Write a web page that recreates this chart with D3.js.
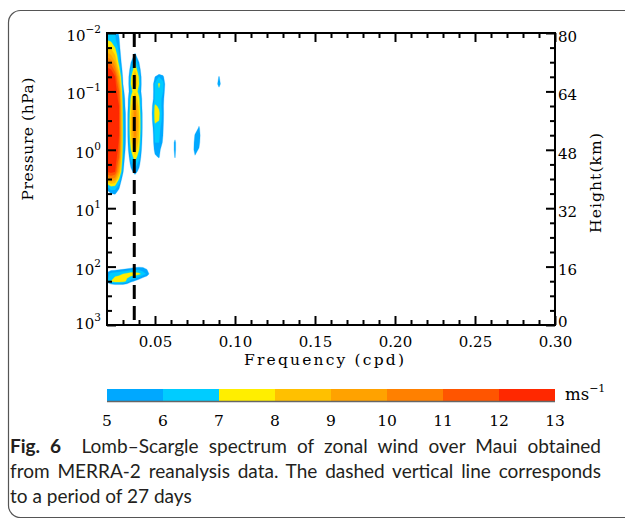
<!DOCTYPE html>
<html><head><meta charset="utf-8">
<script src="https://cdn.jsdelivr.net/npm/d3@7"></script>
<style>body{margin:0;background:#fff}svg{display:block}</style>
</head><body><svg id="c" width="625" height="519"></svg>
<script>
// ---- data ----
const freqs = [0.0200,0.0225,0.0250,0.0275,0.0300,0.0325,0.0350,0.0375,0.0400,0.0425,0.0450,0.0475,0.0500,0.0525,0.0550,0.0575,0.0600,0.0625,0.0650,0.0675,0.0700,0.0725,0.0750,0.0775,0.0800,0.0825,0.0850,0.0875,0.0900,0.0925,0.0950];
const heights = [80,78,76,74,72,70,68,66,64,62,60,58,56,54,52,50,48,46,44,42,40,38,36,34,32,30,28,26,24,22,20,18,16,14,12,10,8,6,4,2,0];
// spectral amplitude (m/s), rows = heights (top to bottom), columns = freqs
const power = [
[6.8,6.5,6.0,4.8,3.0,1.0,0,0,0,0,0,0,0,0,0,0,0,0,0,0,0,0,0,0,0,0,0,0,0,0,0],
[7.0,6.8,6.2,5.2,3.0,1.0,1,1,1,0,0,0,0,0,0,0,0,0,0,0,0,0,0,0,0,0,0,0,0,0,0],
[8.0,7.8,7.0,5.6,3.0,1.0,2,3,2,1,0,0,0,0,0,0,0,0,0,0,0,0,0,0,0,0,0,0,0,0,0],
[9.5,9.0,8.0,6.0,3.5,1.0,3,5.6,3,1,0,0,0,0,0,0,0,0,0,0,0,0,0,0,0,0,0,0,0,0,0],
[11,10.5,9.0,6.5,3.8,2.0,5,6.9,5,2,0,0,0,0,0,0,0,0,0,0,0,0,0,0,0,0,0,0,0,0,0],
[12.3,12,10.5,7.5,4.2,3.0,6,7.8,6,3,1,1,2,3,2.5,1,0,0,0,0,0,0,0,0,0,0,0,1,2,1,0],
[13,12.8,12,9.0,4.6,3.5,6.8,9.0,6.8,3.5,1,2.5,5,6,5.5,2.5,0,0,0,0,0,0,0,0,0,0,0,2.5,5.2,2.5,0],
[13.5,13.2,12.5,10,5.0,3.5,7.0,9.2,7.0,3.5,1,3.2,6.2,7.2,6.3,3.5,0,0,0,0,0,0,0,0,0,0,0,3,6.1,3,0],
[13.8,13.5,12.8,11,5.5,3.5,6.5,7.8,6.5,3.5,1,3.2,6.1,6.8,6.0,3.2,0,0,0,0,0,0,0,0,0,0,0,1.5,3.5,1.5,0],
[14,13.8,13,11.5,5.8,4.0,7.2,8.8,7.2,4,1,3.3,6.2,6.6,5.6,2.8,0,0,0,0,0,0,0,0,0,0,0,0,1,0,0],
[14,13.8,13.2,12,6.0,4.0,7.6,9.8,7.6,4,1,3.8,7.2,6.8,5.4,2.5,0,0,0,0,0,0,0,0,0,0,0,0,0,0,0],
[14,13.8,13.2,12,6.2,4.3,8.0,10.3,8.0,4.3,1,4.0,7.5,7.2,5.5,2.5,0,0,0,0,0,0,0,0,0,0,0,0,0,0,0],
[14,14,13.3,12,6.3,4.3,8.2,10.5,8.2,4.3,1,3.8,7.3,7.0,5.4,2.4,0,0,0,0,0,0,1,4,1,0,0,0,0,0,0],
[14,14,13.3,12,6.4,4.3,8.2,10.5,8.2,4.3,1,3.5,6.5,6.4,5.2,2.0,0,0,0,0,0,1,3.5,5.3,3,0,0,0,0,0,0],
[14,14,13.3,12,6.4,4.3,8.0,10.2,8.0,4.2,1,3.3,6.2,6.2,5.0,2.0,0,4,0,0,0,2,5.2,5.8,3,0,0,0,0,0,0],
[14,14,13.3,11.8,6.4,4.2,7.6,9.6,7.6,4,1,3.2,6.0,6.0,4.8,1.8,3,5.6,2,0,0,3,5.6,5.6,2.5,0,0,0,0,0,0],
[13.8,13.8,13,11.5,6.2,4.0,7.0,8.8,7.0,3.8,1,2.8,5.6,5.5,4.0,1.5,3,5.6,2,0,0,3.5,5.6,4.8,2,0,0,0,0,0,0],
[13.5,13.5,12.8,11,6.0,3.5,6.3,7.6,6.3,3.5,1,1.8,4.6,5.2,3.0,1.0,2.5,5.2,1.5,0,0,3,4.8,3.5,1,0,0,0,0,0,0],
[13,13,12.5,10,5.6,3.0,5.5,6.5,5.5,3,0.5,1,3,3.5,2,0.5,2,3.5,1,0,0,2,3,2,0,0,0,0,0,0,0],
[12,12.3,12,9.0,5.2,2.0,4.5,5.6,4.5,2,0,0,0,0,0,0,0,0,0,0,0,0,0,0,0,0,0,0,0,0,0],
[9,10,9.5,7.0,4.0,1.0,3,4,3,1,0,0,0,0,0,0,0,0,0,0,0,0,0,0,0,0,0,0,0,0,0],
[6,7,6.8,5.5,3.0,1.0,1,1,1,0,0,0,0,0,0,0,0,0,0,0,0,0,0,0,0,0,0,0,0,0,0],
[4,5,5.2,4.2,2.0,0,0,0,0,0,0,0,0,0,0,0,0,0,0,0,0,0,0,0,0,0,0,0,0,0,0],
[2,3,3,2.5,1.0,0,0,0,0,0,0,0,0,0,0,0,0,0,0,0,0,0,0,0,0,0,0,0,0,0,0],
[0,0,0,0,0,0,0,0,0,0,0,0,0,0,0,0,0,0,0,0,0,0,0,0,0,0,0,0,0,0,0],
[0,0,0,0,0,0,0,0,0,0,0,0,0,0,0,0,0,0,0,0,0,0,0,0,0,0,0,0,0,0,0],
[0,0,0,0,0,0,0,0,0,0,0,0,0,0,0,0,0,0,0,0,0,0,0,0,0,0,0,0,0,0,0],
[0,0,0,0,0,0,0,0,0,0,0,0,0,0,0,0,0,0,0,0,0,0,0,0,0,0,0,0,0,0,0],
[0,0,0,0,0,0,0,0,0,0,0,0,0,0,0,0,0,0,0,0,0,0,0,0,0,0,0,0,0,0,0],
[0,0,0,0,0,0,0,0,0,0,0,0,0,0,0,0,0,0,0,0,0,0,0,0,0,0,0,0,0,0,0],
[0,0,0,0,0,0,0,0,0,0,0,0,0,0,0,0,0,0,0,0,0,0,0,0,0,0,0,0,0,0,0],
[1,1,1,1,1,1.5,1.5,1.8,2,2,1.8,1.5,1,0,0,0,0,0,0,0,0,0,0,0,0,0,0,0,0,0,0],
[3,3.5,3.5,3.6,3.8,4.0,4.3,4.6,4.8,4.8,4.5,3.5,2,0,0,0,0,0,0,0,0,0,0,0,0,0,0,0,0,0,0],
[5.5,6.3,6.6,6.8,7.0,7.3,7.6,7.6,7.3,6.5,5.8,4.2,2,0,0,0,0,0,0,0,0,0,0,0,0,0,0,0,0,0,0],
[5.8,7.0,7.6,7.6,7.4,6.8,5.5,4.8,4.2,3.5,3,2,1,0,0,0,0,0,0,0,0,0,0,0,0,0,0,0,0,0,0],
[1.5,2,2,2,2,1.8,1.5,1.2,1,1,1,1,0.5,0,0,0,0,0,0,0,0,0,0,0,0,0,0,0,0,0,0],
[0,0,0,0,0,0,0,0,0,0,0,0,0,0,0,0,0,0,0,0,0,0,0,0,0,0,0,0,0,0,0],
[0,0,0,0,0,0,0,0,0,0,0,0,0,0,0,0,0,0,0,0,0,0,0,0,0,0,0,0,0,0,0],
[0,0,0,0,0,0,0,0,0,0,0,0,0,0,0,0,0,0,0,0,0,0,0,0,0,0,0,0,0,0,0],
[0,0,0,0,0,0,0,0,0,0,0,0,0,0,0,0,0,0,0,0,0,0,0,0,0,0,0,0,0,0,0],
[0,0,0,0,0,0,0,0,0,0,0,0,0,0,0,0,0,0,0,0,0,0,0,0,0,0,0,0,0,0,0]
];
const levels = [5,6,7,8,9,10,11,12,13];
const levelColors = ["#00a8ff","#00ccff","#ffee00","#ffc000","#ffa200","#ff8000","#ff5500","#ff2800"];
const xMajor = [0.05,0.10,0.15,0.20,0.25,0.30];
const xMinor = [0.03,0.04,0.06,0.07,0.08,0.09,0.11,0.12,0.13,0.14,0.16,0.17,0.18,0.19,0.21,0.22,0.23,0.24,0.26,0.27,0.28,0.29];
const heightMajor = [0,16,32,48,64,80];
const heightMinor = [4,8,12,20,24,28,36,40,44,52,56,60,68,72,76];
const pressureExp = ["3","2","1","0","\u22121","\u22122"];
const periodDays = 27;
const captionLines = [
  ["Fig. 6", "  Lomb\u2013Scargle spectrum of zonal wind over Maui obtained"],
  ["", "from MERRA-2 reanalysis data. The dashed vertical line corresponds"],
  ["", "to a period of 27 days"]
];

// ---- drawing ----
const svg = d3.select("#c");
const L=107,R=555,T=33,B=325;
const x = d3.scaleLinear().domain([0.02,0.30]).range([L,R]);
const y = d3.scaleLinear().domain([0,80]).range([B,T]);
const serif = "'DejaVu Serif', serif";

// frame
svg.append("rect").attr("x",8.5).attr("y",10.5).attr("width",700).attr("height",507).attr("rx",12)
  .attr("fill","none").attr("stroke","#555").attr("stroke-width",1.2);

svg.append("clipPath").attr("id","pc").append("rect").attr("x",L).attr("y",T).attr("width",R-L).attr("height",B-T);

const nx = freqs.length, ny = heights.length;
const df = freqs[1]-freqs[0], dh = heights[1]-heights[0];
const flat = power.flat();
const contours = d3.contours().size([nx,ny]).thresholds(levels.slice(0,8))(flat);
const proj = d3.geoTransform({point:function(cx,cy){
  this.stream.point(x(freqs[0]+(cx-0.5)*df), y(heights[0]+(cy-0.5)*dh));
}});
const path = d3.geoPath(proj);
svg.append("g").attr("clip-path","url(#pc)").selectAll("path").data(contours).join("path")
  .attr("d",path).attr("fill",(d,i)=>levelColors[i]).attr("stroke",(d,i)=>levelColors[i]).attr("stroke-width",0.3);

// dashed line at 1/27 cpd
svg.append("line").attr("x1",x(1/periodDays)).attr("x2",x(1/periodDays)).attr("y1",T).attr("y2",B)
  .attr("stroke","#000").attr("stroke-width",3).attr("stroke-dasharray","14,7");

// axes
function styleAxis(g){ g.select(".domain").remove(); g.selectAll(".tick line").attr("stroke","#000").attr("stroke-width",2); }
svg.append("g").attr("transform",`translate(0,${B})`).call(d3.axisBottom(x).tickValues(xMinor).tickSize(-5).tickFormat("")).call(styleAxis);
svg.append("g").attr("transform",`translate(0,${T})`).call(d3.axisTop(x).tickValues(xMinor).tickSize(-5).tickFormat("")).call(styleAxis);
svg.append("g").attr("transform",`translate(0,${T})`).call(d3.axisTop(x).tickValues(xMajor).tickSize(-9).tickFormat("")).call(styleAxis);
const xb = svg.append("g").attr("transform",`translate(0,${B})`).call(d3.axisBottom(x).tickValues(xMajor).tickSize(-9).tickPadding(11).tickFormat(d3.format(".2f"))).call(styleAxis);
xb.selectAll("text").attr("font-family",serif).attr("font-size",15).attr("fill","#000");

svg.append("g").attr("transform",`translate(${L},0)`).call(d3.axisLeft(y).tickValues(heightMinor).tickSize(-5).tickFormat("")).call(styleAxis);
svg.append("g").attr("transform",`translate(${R},0)`).call(d3.axisRight(y).tickValues(heightMinor).tickSize(-5).tickFormat("")).call(styleAxis);
svg.append("g").attr("transform",`translate(${L},0)`).call(d3.axisLeft(y).tickValues(heightMajor).tickSize(-9).tickFormat("")).call(styleAxis);
const yr = svg.append("g").attr("transform",`translate(${R},0)`).call(d3.axisRight(y).tickValues(heightMajor).tickSize(-9).tickPadding(3).tickFormat(d3.format("d"))).call(styleAxis);
yr.selectAll("text").attr("font-family",serif).attr("font-size",15).attr("fill","#000").attr("dy",d=>d===0?"0.1em":"0.55em");

// pressure labels
const pl = svg.append("g").selectAll("text").data(heightMajor).join("text")
  .attr("x",L-6).attr("y",d=>y(d)+(d===0?4:8)).attr("text-anchor","end").attr("font-family",serif).attr("font-size",15);
pl.append("tspan").text("10");
pl.append("tspan").attr("dy",-8).attr("font-size",10.5).text((d,i)=>pressureExp[i]);

svg.append("rect").attr("x",L).attr("y",T).attr("width",R-L).attr("height",B-T).attr("fill","none").attr("stroke","#000").attr("stroke-width",2);

// titles
svg.append("text").attr("x",324).attr("y",365).attr("text-anchor","middle").attr("font-family",serif).attr("font-size",15.5)
  .attr("textLength",160).attr("lengthAdjust","spacing").text("Frequency (cpd)");
svg.append("text").attr("transform","translate(33,139) rotate(-90)").attr("text-anchor","middle").attr("font-family",serif).attr("font-size",15.5)
  .attr("textLength",123).attr("lengthAdjust","spacing").text("Pressure (hPa)");
svg.append("text").attr("transform","translate(601,183) rotate(-90)").attr("text-anchor","middle").attr("font-family",serif).attr("font-size",15.5)
  .attr("textLength",100).attr("lengthAdjust","spacing").text("Height(km)");

// colorbar
const cx = d3.scaleLinear().domain([5,13]).range([L,R]);
svg.append("g").selectAll("rect").data(levelColors).join("rect")
  .attr("x",(d,i)=>cx(levels[i])).attr("width",(d,i)=>cx(levels[i+1])-cx(levels[i])).attr("y",389).attr("height",12).attr("fill",d=>d);
svg.append("line").attr("x1",L).attr("x2",R).attr("y1",401.5).attr("y2",401.5).attr("stroke","#666").attr("stroke-width",1.5);
svg.append("g").selectAll("text").data(levels).join("text").attr("x",d=>cx(d)).attr("y",426).attr("text-anchor","middle")
  .attr("font-family",serif).attr("font-size",15.5).text(d=>d);
const ms = svg.append("text").attr("x",565).attr("y",400).attr("font-family",serif).attr("font-size",16.5);
ms.append("tspan").text("ms");
ms.append("tspan").attr("dy",-8).attr("font-size",11).text("\u22121");

// caption: narrowed glyphs, first two lines justified with word spacing
const capG = svg.append("g").attr("transform","translate(10,0)");
const cap = capG.append("g").attr("font-family","Lato, Roboto, sans-serif").attr("font-size",19).attr("fill","#231f20");
const capTexts = captionLines.map((ln,i)=>{
  const t = cap.append("text").attr("x",0).attr("y",453+25*i);
  if(ln[0]) t.append("tspan").attr("font-weight","bold").text(ln[0]);
  t.append("tspan").attr("xml:space","preserve").text(ln[1]);
  return t;
});
const w1 = capTexts[0].node().getComputedTextLength();
const w3 = capTexts[2].node().getComputedTextLength();
const s = (164 / w3 + 591 / w1) / 2;
cap.attr("transform",`scale(${s},1)`);
[[0,591],[1,591]].forEach(([i,target])=>{
  const t = capTexts[i];
  const w = t.node().getComputedTextLength();
  const nSpaces = (captionLines[i][0]+captionLines[i][1]).split(" ").length - 1;
  const extra = Math.max(0,(target/s - w)/nSpaces);
  t.attr("word-spacing",extra);
});
</script>
</body></html>
